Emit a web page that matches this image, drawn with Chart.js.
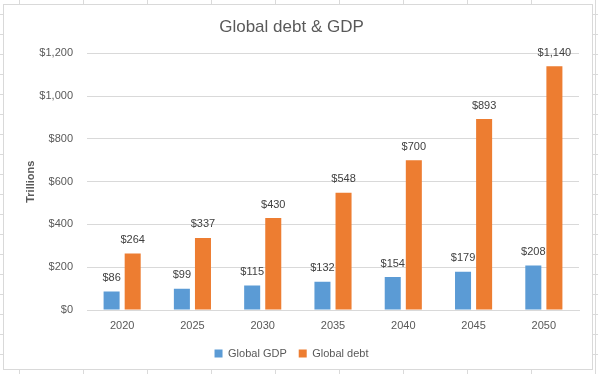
<!DOCTYPE html>
<html>
<head>
<meta charset="utf-8">
<script src="https://cdn.jsdelivr.net/npm/chart.js@4/dist/chart.umd.min.js"></script>
<style>
  html, body { margin:0; padding:0; }
  body {
    width:598px; height:374px; overflow:hidden; position:relative;
    background-color:#fff;
    background-image:
      linear-gradient(to right, #dadada 1px, transparent 1px),
      linear-gradient(to bottom, #dadada 1px, transparent 1px);
    background-size:64px 20px;
    background-position:19px 14px;
  }
  #box {
    position:absolute; left:3px; top:4px; width:588px; height:364px;
    background:#fff; border:1px solid #d9d9d9;
  }
</style>
</head>
<body>
<div id="box"><canvas id="chartHutang" width="588" height="364"></canvas></div>
<script>
const tahun = ['2020', '2025', '2030', '2035', '2040', '2045', '2050'];
const gdp = [86, 99, 115, 132, 154, 179, 208];
const hutang = [264, 337, 430, 548, 700, 893, 1140];
const tickY = [0, 200, 400, 600, 800, 1000, 1200];

const fontKu = "'Liberation Sans', Arial, sans-serif";
const abu = '#595959';

function duit(v){
  return '$' + v.toLocaleString('en-US');
}

// label angka di atas batang
const labelBatang = {
  id: 'labelBatang',
  afterDatasetsDraw(c){
    const ctx = c.ctx;
    ctx.save();
    ctx.font = '11px ' + fontKu;
    ctx.fillStyle = '#404040';
    ctx.textAlign = 'center';
    ctx.textBaseline = 'bottom';
    c.data.datasets.forEach((ds, i) => {
      c.getDatasetMeta(i).data.forEach((bar, j) => {
        ctx.fillText(duit(ds.data[j]), bar.x, bar.y - 8);
      });
    });
    ctx.restore();
  }
};

new Chart(document.getElementById('chartHutang'), {
  type: 'bar',
  data: {
    labels: tahun,
    datasets: [
      { label: 'Global GDP', data: gdp, backgroundColor: '#5B9BD5' },
      { label: 'Global debt', data: hutang, backgroundColor: '#ED7D31' }
    ]
  },
  options: {
    responsive: false,
    animation: false,
    layout: { padding: { left: 0, right: 13, top: 0, bottom: 0 } },
    datasets: { bar: { categoryPercentage: 0.6, barPercentage: 0.76 } },
    plugins: {
      title: {
        display: true, text: 'Global debt & GDP', color: abu,
        font: { family: fontKu, size: 17, weight: 'normal' }, padding: { top: 12, bottom: 16 }
      },
      legend: {
        position: 'bottom',
        labels: { color: abu, font: { family: fontKu, size: 11 }, boxWidth: 8, boxHeight: 8, padding: 12 }
      },
      tooltip: { enabled: false }
    },
    scales: {
      x: {
        grid: { display: false },
        border: { color: '#d9d9d9' },
        ticks: { color: abu, font: { family: fontKu, size: 11 }, padding: 1 },
        afterFit: s => { s.height = 26; }
      },
      y: {
        min: 0, max: 1200,
        afterBuildTicks: s => { s.ticks = tickY.map(v => ({ value: v })); },
        afterFit: s => { s.width = 83; },
        grid: { color: '#d9d9d9', drawTicks: false },
        border: { display: false },
        ticks: { color: abu, font: { family: fontKu, size: 11 }, padding: 14, callback: v => duit(v) },
        title: { display: true, text: 'Trillions', color: abu, font: { family: fontKu, size: 11, weight: 'bold' }, padding: { top: 20, bottom: 0 } }
      }
    }
  },
  plugins: [labelBatang]
});
</script>
</body>
</html>
